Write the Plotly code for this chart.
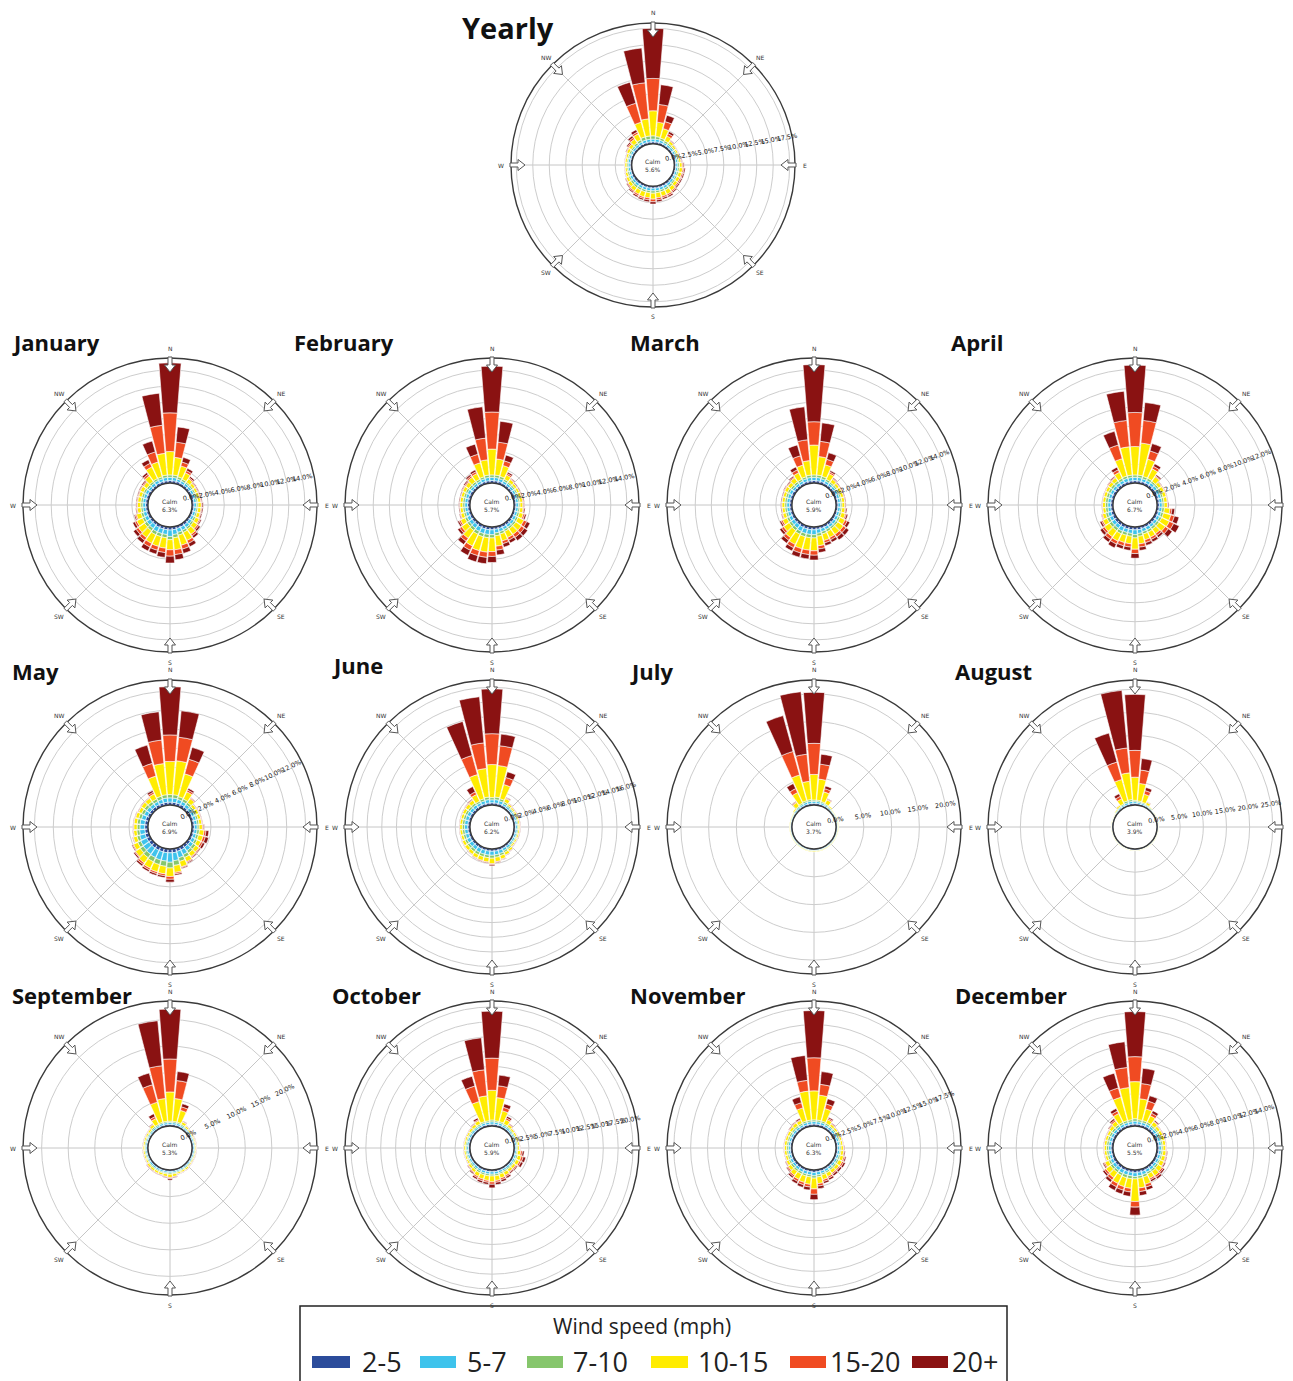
import math
import plotly.graph_objects as go

W, H = 1293, 1381

DIRECTIONS = list(range(0, 360, 10))
SPEED_BINS = ["2-5", "5-7", "7-10", "10-15", "15-20", "20+"]
COLORS = ["#2b4c9b", "#3ec3ec", "#86c66c", "#ffec00", "#f04b22", "#8a1212"]
COMPASS = ["N", "NE", "E", "SE", "S", "SW", "W", "NW"]
COMPASS_DEG = [0, 45, 90, 135, 180, 225, 270, 315]

# each entry: (2-5, 5-7, 7-10, 10-15, 15-20, 20+) in %, directions 0..350 step 10
YEARLY = [
    (0.3,0.4,0.5,3.8,4.9,7.6), (0.3,0.4,0.4,2.2,2.7,3.0), (0.3,0.35,0.35,1.5,1.1,1.0), (0.25,0.3,0.3,0.8,0.4,0.35), (0.25,0.3,0.25,0.4,0.1,0.1), (0.25,0.3,0.2,0.3,0.05,0.05),
    (0.25,0.3,0.2,0.25,0.05,0.05), (0.25,0.3,0.2,0.25,0.05,0.05), (0.25,0.3,0.2,0.3,0.1,0.1), (0.25,0.3,0.25,0.4,0.15,0.15), (0.25,0.3,0.25,0.5,0.2,0.2), (0.25,0.3,0.25,0.5,0.2,0.2),
    (0.25,0.3,0.25,0.5,0.2,0.2), (0.25,0.35,0.25,0.5,0.2,0.2), (0.3,0.35,0.3,0.6,0.2,0.2), (0.3,0.4,0.3,0.7,0.25,0.25), (0.3,0.4,0.3,0.7,0.25,0.25), (0.3,0.4,0.3,0.8,0.3,0.3),
    (0.3,0.4,0.35,0.9,0.4,0.35), (0.3,0.4,0.3,0.8,0.3,0.3), (0.3,0.4,0.3,0.8,0.25,0.25), (0.3,0.4,0.3,0.7,0.25,0.25), (0.3,0.4,0.3,0.6,0.2,0.2), (0.3,0.35,0.3,0.5,0.15,0.15),
    (0.3,0.35,0.25,0.4,0.1,0.1), (0.25,0.3,0.25,0.35,0.05,0.05), (0.25,0.3,0.2,0.3,0.05,0.05), (0.25,0.3,0.2,0.3,0.05,0.05), (0.25,0.3,0.2,0.3,0.05,0.05), (0.25,0.3,0.2,0.3,0.05,0.05),
    (0.25,0.3,0.25,0.4,0.1,0.1), (0.25,0.3,0.25,0.5,0.2,0.2), (0.25,0.35,0.3,0.7,0.3,0.3), (0.3,0.35,0.35,1.0,0.3,0.4), (0.3,0.4,0.5,2.3,3.0,3.3), (0.3,0.4,0.5,2.6,5.5,5.3),
]
JANUARY = [
    (0.3,0.4,0.3,2.9,4.8,6.2), (0.3,0.4,0.3,2.2,1.9,1.9), (0.3,0.3,0.3,1.4,0.5,0.6), (0.25,0.3,0.25,0.9,0.3,0.3), (0.25,0.3,0.2,0.5,0.15,0.2), (0.25,0.3,0.2,0.35,0.1,0.1),
    (0.25,0.3,0.2,0.3,0.1,0.1), (0.25,0.3,0.2,0.3,0.1,0.1), (0.25,0.3,0.2,0.35,0.1,0.1), (0.25,0.3,0.2,0.4,0.1,0.15), (0.25,0.3,0.2,0.4,0.1,0.15), (0.25,0.3,0.2,0.4,0.1,0.15),
    (0.25,0.3,0.25,0.5,0.15,0.15), (0.25,0.35,0.25,0.6,0.2,0.25), (0.3,0.4,0.25,0.8,0.25,0.3), (0.3,0.45,0.3,1.1,0.4,0.45), (0.3,0.5,0.35,1.3,0.5,0.55), (0.35,0.6,0.4,1.5,0.6,0.65),
    (0.37,0.8,0.4,1.25,0.8,0.85), (0.35,0.6,0.4,1.3,0.55,0.6), (0.35,0.6,0.4,1.25,0.5,0.5), (0.35,0.6,0.4,1.2,0.5,0.55), (0.3,0.55,0.35,1.05,0.4,0.45), (0.3,0.5,0.35,0.95,0.35,0.4),
    (0.3,0.45,0.3,0.8,0.25,0.3), (0.3,0.4,0.3,0.6,0.15,0.15), (0.3,0.35,0.25,0.45,0.1,0.1), (0.3,0.35,0.25,0.4,0.1,0.1), (0.3,0.35,0.25,0.4,0.1,0.1), (0.3,0.35,0.25,0.4,0.1,0.1),
    (0.3,0.35,0.25,0.45,0.1,0.1), (0.25,0.3,0.25,0.5,0.15,0.15), (0.25,0.35,0.25,0.85,0.25,0.25), (0.3,0.35,0.25,1.6,0.5,0.5), (0.3,0.35,0.25,1.9,1.3,1.4), (0.3,0.4,0.3,2.7,3.5,4.0),
]
FEBRUARY = [
    (0.3,0.4,0.3,3.2,4.6,5.7), (0.3,0.4,0.3,2.0,2.1,2.6), (0.3,0.35,0.3,1.4,0.6,0.75), (0.25,0.3,0.25,0.6,0.2,0.2), (0.25,0.3,0.2,0.4,0.1,0.1), (0.25,0.3,0.2,0.3,0.05,0.1),
    (0.25,0.3,0.2,0.3,0.05,0.1), (0.25,0.3,0.2,0.3,0.05,0.1), (0.25,0.3,0.2,0.35,0.1,0.1), (0.25,0.3,0.2,0.35,0.1,0.1), (0.25,0.3,0.2,0.4,0.1,0.15), (0.25,0.3,0.25,0.5,0.2,0.2),
    (0.25,0.35,0.25,0.8,0.4,0.45), (0.3,0.35,0.25,0.85,0.45,0.5), (0.3,0.35,0.25,0.85,0.45,0.5), (0.3,0.35,0.25,0.85,0.35,0.4), (0.3,0.4,0.3,0.9,0.35,0.45), (0.3,0.45,0.35,1.3,0.5,0.6),
    (0.35,0.6,0.4,1.7,0.6,0.75), (0.35,0.6,0.4,1.8,0.65,0.8), (0.35,0.6,0.4,1.8,0.65,0.8), (0.35,0.55,0.4,1.6,0.6,0.7), (0.3,0.5,0.35,1.2,0.45,0.5), (0.3,0.45,0.3,0.85,0.3,0.3),
    (0.3,0.4,0.3,0.6,0.2,0.2), (0.3,0.35,0.25,0.4,0.1,0.1), (0.3,0.35,0.25,0.35,0.05,0.1), (0.3,0.35,0.25,0.35,0.05,0.1), (0.3,0.35,0.25,0.35,0.05,0.1), (0.3,0.35,0.25,0.35,0.05,0.1),
    (0.3,0.35,0.25,0.4,0.1,0.1), (0.25,0.3,0.25,0.5,0.15,0.15), (0.25,0.3,0.25,0.7,0.2,0.2), (0.25,0.3,0.25,0.8,0.25,0.25), (0.3,0.35,0.25,1.8,1.1,1.3), (0.3,0.4,0.3,1.9,2.7,3.9),
]
MARCH = [
    (0.3,0.4,0.3,3.7,2.9,7.1), (0.3,0.4,0.3,2.3,1.9,2.3), (0.3,0.35,0.3,1.5,0.7,0.85), (0.25,0.3,0.25,0.8,0.2,0.2), (0.25,0.3,0.2,0.45,0.1,0.1), (0.25,0.3,0.2,0.35,0.05,0.1),
    (0.25,0.3,0.2,0.35,0.05,0.1), (0.25,0.3,0.2,0.35,0.05,0.1), (0.25,0.3,0.2,0.35,0.05,0.1), (0.25,0.3,0.2,0.35,0.05,0.1), (0.25,0.3,0.2,0.4,0.1,0.15), (0.25,0.3,0.25,0.5,0.15,0.2),
    (0.25,0.35,0.25,0.7,0.3,0.35), (0.3,0.35,0.25,0.85,0.4,0.45), (0.3,0.35,0.25,0.85,0.4,0.45), (0.3,0.35,0.3,0.8,0.3,0.35), (0.3,0.4,0.3,0.85,0.3,0.35), (0.3,0.5,0.35,1.2,0.4,0.45),
    (0.35,0.6,0.4,1.6,0.55,0.6), (0.35,0.6,0.4,1.55,0.55,0.55), (0.35,0.6,0.4,1.55,0.55,0.55), (0.35,0.55,0.4,1.4,0.45,0.45), (0.3,0.5,0.35,1.1,0.4,0.45), (0.3,0.45,0.3,0.85,0.3,0.3),
    (0.3,0.4,0.3,0.6,0.2,0.2), (0.3,0.35,0.25,0.4,0.1,0.1), (0.3,0.35,0.25,0.35,0.05,0.1), (0.3,0.35,0.25,0.35,0.05,0.1), (0.3,0.35,0.25,0.35,0.05,0.1), (0.3,0.35,0.25,0.35,0.05,0.1),
    (0.3,0.35,0.25,0.4,0.1,0.1), (0.25,0.3,0.25,0.45,0.1,0.1), (0.25,0.3,0.25,0.6,0.15,0.15), (0.25,0.3,0.25,0.9,0.4,0.4), (0.3,0.35,0.25,1.5,1.2,1.4), (0.3,0.4,0.3,1.8,2.6,4.1),
]
APRIL = [
    (0.25,0.35,0.25,3.0,3.6,5.0), (0.25,0.35,0.25,3.4,2.4,1.9), (0.25,0.3,0.25,1.9,0.9,0.8), (0.25,0.3,0.25,1.1,0.3,0.3), (0.25,0.3,0.2,0.6,0.1,0.15), (0.25,0.3,0.2,0.35,0.05,0.05),
    (0.25,0.3,0.2,0.35,0.05,0.05), (0.25,0.3,0.2,0.35,0.05,0.05), (0.25,0.3,0.2,0.35,0.05,0.05), (0.25,0.3,0.2,0.35,0.05,0.1), (0.25,0.3,0.25,0.6,0.2,0.3), (0.25,0.3,0.25,0.8,0.4,0.5),
    (0.25,0.3,0.25,0.9,0.5,0.65), (0.25,0.3,0.25,0.8,0.4,0.5), (0.25,0.3,0.25,0.6,0.25,0.25), (0.25,0.35,0.25,0.6,0.25,0.3), (0.25,0.35,0.25,0.65,0.3,0.3), (0.3,0.4,0.3,0.8,0.35,0.35),
    (0.3,0.5,0.35,1.2,0.45,0.5), (0.3,0.4,0.3,0.8,0.35,0.35), (0.3,0.4,0.3,0.8,0.35,0.35), (0.3,0.45,0.3,0.85,0.35,0.45), (0.3,0.4,0.3,0.8,0.35,0.35), (0.3,0.4,0.3,0.65,0.25,0.3),
    (0.3,0.35,0.3,0.5,0.15,0.2), (0.3,0.35,0.25,0.35,0.1,0.05), (0.25,0.3,0.25,0.3,0.05,0.05), (0.25,0.3,0.25,0.3,0.05,0.05), (0.25,0.3,0.25,0.3,0.05,0.05), (0.25,0.3,0.25,0.3,0.05,0.05),
    (0.25,0.3,0.25,0.3,0.05,0.05), (0.25,0.3,0.25,0.35,0.1,0.05), (0.25,0.3,0.25,0.4,0.1,0.1), (0.25,0.3,0.25,0.7,0.3,0.3), (0.25,0.35,0.25,1.9,1.5,1.5), (0.25,0.35,0.25,3.0,2.8,3.1),
]
MAY = [
    (0.3,0.45,0.35,3.5,2.8,5.1), (0.3,0.45,0.35,3.6,2.5,2.8), (0.3,0.4,0.3,2.5,1.6,1.3), (0.3,0.35,0.3,0.85,0.2,0.2), (0.25,0.35,0.25,0.5,0.1,0.05), (0.25,0.3,0.2,0.3,0.05,0.05),
    (0.25,0.3,0.2,0.3,0.05,0.05), (0.25,0.3,0.2,0.3,0.05,0.05), (0.25,0.3,0.2,0.3,0.05,0.05), (0.25,0.3,0.2,0.35,0.1,0.1), (0.25,0.3,0.25,0.5,0.2,0.3), (0.25,0.3,0.25,0.5,0.25,0.35),
    (0.25,0.35,0.25,0.45,0.2,0.25), (0.3,0.4,0.3,0.45,0.1,0.1), (0.3,0.45,0.3,0.45,0.1,0.1), (0.35,0.55,0.35,0.5,0.1,0.1), (0.35,0.7,0.4,0.6,0.1,0.1), (0.4,0.85,0.5,0.75,0.15,0.15),
    (0.4,1.0,0.6,0.9,0.3,0.3), (0.4,0.9,0.55,0.8,0.2,0.2), (0.4,0.9,0.5,0.8,0.2,0.2), (0.4,0.85,0.5,0.75,0.2,0.2), (0.4,0.8,0.45,0.7,0.2,0.2), (0.4,0.75,0.4,0.6,0.1,0.15),
    (0.4,0.7,0.35,0.5,0.1,0.1), (0.4,0.6,0.3,0.4,0.05,0.05), (0.35,0.55,0.3,0.35,0.05,0.05), (0.35,0.5,0.3,0.35,0.05,0.05), (0.35,0.5,0.3,0.35,0.05,0.05), (0.35,0.45,0.3,0.35,0.05,0.05),
    (0.3,0.4,0.3,0.35,0.05,0.05), (0.3,0.4,0.3,0.4,0.05,0.05), (0.3,0.35,0.3,0.45,0.05,0.05), (0.3,0.35,0.3,0.6,0.2,0.2), (0.3,0.4,0.35,2.2,1.4,2.0), (0.3,0.45,0.35,3.3,2.5,3.0),
]
JUNE = [
    (0.3,0.4,0.3,4.5,4.2,6.1), (0.3,0.45,0.35,4.3,2.7,1.6), (0.3,0.4,0.3,2.0,1.0,0.8), (0.25,0.3,0.25,0.5,0.1,0.1), (0.2,0.25,0.2,0.25,0.05,0.05), (0.2,0.25,0.15,0.2,0.05,0.05),
    (0.2,0.25,0.15,0.2,0.05,0.05), (0.2,0.25,0.15,0.2,0.05,0.05), (0.2,0.25,0.15,0.2,0.05,0.05), (0.2,0.25,0.15,0.2,0.05,0.05), (0.2,0.25,0.15,0.2,0.05,0.05), (0.2,0.25,0.15,0.2,0.05,0.05),
    (0.2,0.25,0.15,0.2,0.05,0.05), (0.2,0.25,0.15,0.2,0.05,0.05), (0.25,0.3,0.2,0.3,0.05,0.05), (0.25,0.35,0.25,0.4,0.05,0.05), (0.3,0.45,0.3,0.5,0.1,0.05), (0.3,0.5,0.35,0.6,0.1,0.1),
    (0.3,0.55,0.4,0.75,0.15,0.15), (0.3,0.55,0.35,0.6,0.1,0.1), (0.3,0.55,0.35,0.55,0.1,0.1), (0.3,0.55,0.35,0.5,0.1,0.05), (0.3,0.5,0.35,0.45,0.05,0.05), (0.3,0.5,0.3,0.45,0.05,0.05),
    (0.3,0.5,0.3,0.4,0.05,0.05), (0.3,0.45,0.3,0.35,0.05,0.05), (0.3,0.45,0.3,0.35,0.05,0.05), (0.3,0.45,0.3,0.35,0.05,0.05), (0.3,0.45,0.3,0.35,0.05,0.05), (0.3,0.45,0.3,0.35,0.05,0.05),
    (0.3,0.45,0.3,0.4,0.05,0.05), (0.3,0.4,0.3,0.45,0.1,0.05), (0.3,0.4,0.3,0.5,0.1,0.1), (0.3,0.35,0.25,1.0,0.4,0.8), (0.3,0.4,0.3,3.4,2.7,4.8), (0.3,0.45,0.35,3.9,3.5,6.3),
]
JULY = [
    (0.3,0.35,0.25,4.6,5.6,9.2), (0.3,0.35,0.25,3.8,2.7,1.8), (0.25,0.3,0.25,1.8,0.6,0.5), (0.2,0.25,0.2,0.8,0.15,0.1), (0.15,0.2,0.15,0.2,0.0,0.0), (0.12,0.15,0.1,0.08,0.0,0.0),
    (0.12,0.15,0.1,0.08,0.0,0.0), (0.12,0.15,0.1,0.08,0.0,0.0), (0.12,0.15,0.1,0.08,0.0,0.0), (0.12,0.15,0.1,0.08,0.0,0.0), (0.12,0.15,0.1,0.08,0.0,0.0), (0.12,0.15,0.1,0.08,0.0,0.0),
    (0.12,0.15,0.1,0.08,0.0,0.0), (0.12,0.15,0.1,0.08,0.0,0.0), (0.12,0.15,0.1,0.08,0.0,0.0), (0.12,0.15,0.1,0.08,0.0,0.0), (0.12,0.15,0.1,0.1,0.0,0.0), (0.12,0.15,0.12,0.12,0.0,0.0),
    (0.12,0.15,0.12,0.15,0.0,0.0), (0.12,0.15,0.12,0.12,0.0,0.0), (0.12,0.15,0.1,0.1,0.0,0.0), (0.12,0.15,0.1,0.08,0.0,0.0), (0.12,0.15,0.1,0.08,0.0,0.0), (0.12,0.15,0.1,0.08,0.0,0.0),
    (0.12,0.15,0.1,0.08,0.0,0.0), (0.12,0.15,0.1,0.08,0.0,0.0), (0.12,0.15,0.1,0.08,0.0,0.0), (0.12,0.15,0.1,0.08,0.0,0.0), (0.12,0.15,0.1,0.08,0.0,0.0), (0.12,0.15,0.1,0.08,0.0,0.0),
    (0.12,0.15,0.1,0.1,0.0,0.0), (0.15,0.2,0.15,0.2,0.0,0.0), (0.2,0.25,0.2,0.8,0.15,0.1), (0.25,0.3,0.25,2.1,0.8,1.0), (0.3,0.35,0.3,4.8,4.4,6.7), (0.3,0.4,0.3,3.3,4.9,11.3),
]
AUGUST = [
    (0.3,0.4,0.3,5.0,5.8,12.1), (0.25,0.35,0.3,3.8,2.9,2.5), (0.25,0.3,0.25,1.8,0.8,0.7), (0.2,0.25,0.2,0.5,0.1,0.05), (0.15,0.2,0.15,0.1,0.0,0.0), (0.1,0.12,0.08,0.05,0.0,0.0),
    (0.1,0.12,0.08,0.05,0.0,0.0), (0.1,0.12,0.08,0.05,0.0,0.0), (0.1,0.12,0.08,0.05,0.0,0.0), (0.1,0.12,0.08,0.05,0.0,0.0), (0.1,0.12,0.08,0.05,0.0,0.0), (0.1,0.12,0.08,0.05,0.0,0.0),
    (0.1,0.12,0.08,0.05,0.0,0.0), (0.1,0.12,0.08,0.05,0.0,0.0), (0.1,0.12,0.08,0.05,0.0,0.0), (0.1,0.12,0.08,0.05,0.0,0.0), (0.1,0.12,0.08,0.05,0.0,0.0), (0.1,0.12,0.08,0.05,0.0,0.0),
    (0.1,0.12,0.08,0.05,0.0,0.0), (0.1,0.12,0.08,0.05,0.0,0.0), (0.1,0.12,0.08,0.05,0.0,0.0), (0.1,0.12,0.08,0.05,0.0,0.0), (0.1,0.12,0.08,0.05,0.0,0.0), (0.1,0.12,0.08,0.05,0.0,0.0),
    (0.1,0.12,0.08,0.05,0.0,0.0), (0.1,0.12,0.08,0.05,0.0,0.0), (0.1,0.12,0.08,0.05,0.0,0.0), (0.1,0.12,0.08,0.05,0.0,0.0), (0.1,0.12,0.08,0.05,0.0,0.0), (0.1,0.12,0.08,0.05,0.0,0.0),
    (0.1,0.12,0.08,0.05,0.0,0.0), (0.15,0.2,0.15,0.15,0.0,0.0), (0.2,0.25,0.2,0.35,0.05,0.05), (0.25,0.3,0.25,1.2,0.6,0.6), (0.3,0.4,0.4,4.8,3.9,6.5), (0.35,0.45,0.4,5.8,5.4,12.5),
]
SEPTEMBER = [
    (0.3,0.35,0.25,5.5,6.2,9.4), (0.3,0.35,0.25,4.3,3.4,1.7), (0.3,0.35,0.25,2.3,0.7,0.6), (0.25,0.3,0.25,0.5,0.1,0.1), (0.2,0.25,0.2,0.3,0.05,0.05), (0.2,0.25,0.15,0.2,0.05,0.05),
    (0.2,0.25,0.15,0.2,0.05,0.05), (0.2,0.25,0.15,0.2,0.05,0.05), (0.2,0.25,0.15,0.2,0.05,0.05), (0.2,0.25,0.15,0.2,0.05,0.05), (0.2,0.25,0.15,0.2,0.05,0.05), (0.2,0.25,0.15,0.2,0.05,0.05),
    (0.2,0.25,0.15,0.2,0.05,0.05), (0.2,0.25,0.15,0.2,0.05,0.05), (0.2,0.25,0.2,0.3,0.05,0.05), (0.2,0.25,0.2,0.3,0.05,0.05), (0.2,0.25,0.2,0.3,0.05,0.05), (0.25,0.3,0.2,0.5,0.1,0.15),
    (0.25,0.3,0.25,0.6,0.2,0.3), (0.25,0.3,0.2,0.5,0.1,0.15), (0.25,0.3,0.2,0.4,0.1,0.1), (0.25,0.3,0.2,0.4,0.1,0.1), (0.25,0.3,0.2,0.4,0.1,0.1), (0.25,0.3,0.2,0.4,0.1,0.1),
    (0.2,0.25,0.2,0.3,0.05,0.05), (0.2,0.25,0.2,0.3,0.05,0.05), (0.2,0.25,0.2,0.3,0.05,0.05), (0.2,0.25,0.2,0.3,0.05,0.05), (0.2,0.25,0.2,0.3,0.05,0.05), (0.2,0.25,0.2,0.3,0.05,0.05),
    (0.2,0.25,0.2,0.3,0.05,0.05), (0.2,0.25,0.2,0.35,0.05,0.05), (0.25,0.3,0.25,0.5,0.1,0.1), (0.25,0.3,0.25,1.2,0.4,0.6), (0.3,0.35,0.25,3.9,3.4,2.3), (0.3,0.35,0.25,4.3,6.2,8.5),
]
OCTOBER = [
    (0.3,0.4,0.3,5.0,5.4,7.9), (0.3,0.35,0.25,3.9,2.0,1.8), (0.3,0.35,0.25,1.9,0.6,0.6), (0.25,0.3,0.25,0.8,0.3,0.3), (0.25,0.3,0.2,0.4,0.1,0.1), (0.2,0.25,0.2,0.3,0.05,0.05),
    (0.2,0.25,0.2,0.3,0.05,0.05), (0.2,0.25,0.2,0.3,0.05,0.05), (0.2,0.25,0.2,0.3,0.05,0.05), (0.2,0.25,0.2,0.3,0.05,0.05), (0.2,0.25,0.2,0.5,0.3,0.3), (0.25,0.3,0.25,0.6,0.35,0.45),
    (0.25,0.3,0.25,0.6,0.3,0.4), (0.25,0.3,0.2,0.45,0.2,0.2), (0.25,0.3,0.2,0.45,0.15,0.2), (0.25,0.3,0.25,0.6,0.25,0.3), (0.25,0.35,0.25,0.7,0.3,0.35), (0.3,0.4,0.3,0.8,0.3,0.4),
    (0.3,0.4,0.3,1.0,0.4,0.6), (0.3,0.4,0.3,0.8,0.3,0.35), (0.3,0.4,0.3,0.75,0.3,0.35), (0.3,0.35,0.3,0.65,0.25,0.3), (0.25,0.35,0.25,0.5,0.15,0.2), (0.25,0.3,0.25,0.4,0.1,0.1),
    (0.25,0.3,0.2,0.3,0.05,0.05), (0.25,0.3,0.2,0.3,0.05,0.05), (0.25,0.3,0.2,0.3,0.05,0.05), (0.25,0.3,0.2,0.3,0.05,0.05), (0.25,0.3,0.2,0.3,0.05,0.05), (0.25,0.3,0.2,0.3,0.05,0.05),
    (0.25,0.3,0.2,0.3,0.05,0.05), (0.25,0.3,0.2,0.35,0.05,0.05), (0.25,0.3,0.2,0.45,0.1,0.1), (0.25,0.3,0.25,0.6,0.2,0.3), (0.3,0.35,0.25,3.5,2.7,1.7), (0.3,0.35,0.25,4.2,4.4,5.4),
]
NOVEMBER = [
    (0.3,0.35,0.25,4.3,4.9,7.0), (0.3,0.35,0.25,3.7,1.6,1.9), (0.3,0.35,0.25,1.9,0.7,0.8), (0.25,0.3,0.25,0.6,0.2,0.2), (0.25,0.3,0.2,0.35,0.1,0.1), (0.25,0.3,0.2,0.3,0.05,0.05),
    (0.25,0.3,0.2,0.3,0.05,0.05), (0.25,0.3,0.2,0.3,0.05,0.05), (0.25,0.3,0.2,0.3,0.05,0.05), (0.25,0.3,0.2,0.35,0.1,0.1), (0.25,0.3,0.2,0.4,0.1,0.15), (0.25,0.3,0.25,0.5,0.2,0.2),
    (0.25,0.3,0.25,0.55,0.25,0.3), (0.25,0.3,0.25,0.5,0.2,0.3), (0.25,0.3,0.25,0.5,0.2,0.3), (0.25,0.35,0.25,0.6,0.25,0.3), (0.3,0.35,0.25,0.7,0.3,0.3), (0.3,0.45,0.3,1.0,0.35,0.4),
    (0.35,0.5,0.35,1.6,0.8,0.8), (0.3,0.45,0.3,1.1,0.4,0.45), (0.3,0.45,0.3,1.0,0.35,0.4), (0.3,0.4,0.3,0.9,0.35,0.35), (0.3,0.4,0.3,0.7,0.25,0.25), (0.3,0.35,0.3,0.5,0.2,0.15),
    (0.3,0.35,0.25,0.4,0.1,0.1), (0.25,0.3,0.25,0.35,0.05,0.05), (0.25,0.3,0.25,0.35,0.05,0.05), (0.25,0.3,0.25,0.35,0.05,0.05), (0.25,0.3,0.25,0.35,0.05,0.05), (0.25,0.3,0.25,0.35,0.05,0.05),
    (0.25,0.3,0.25,0.35,0.05,0.05), (0.25,0.3,0.25,0.4,0.1,0.1), (0.25,0.3,0.25,0.5,0.1,0.1), (0.25,0.3,0.25,0.5,0.1,0.2), (0.3,0.35,0.25,2.0,0.8,0.9), (0.3,0.35,0.25,4.3,1.6,3.7),
]
DECEMBER = [
    (0.25,0.35,0.3,4.6,3.1,5.6), (0.25,0.3,0.25,2.6,1.9,1.9), (0.25,0.3,0.25,1.5,1.0,0.7), (0.25,0.3,0.25,0.9,0.35,0.35), (0.25,0.3,0.2,0.5,0.1,0.15), (0.25,0.3,0.2,0.35,0.05,0.05),
    (0.25,0.3,0.2,0.35,0.05,0.05), (0.25,0.3,0.2,0.35,0.05,0.05), (0.25,0.3,0.2,0.35,0.05,0.05), (0.25,0.3,0.2,0.35,0.05,0.05), (0.25,0.3,0.2,0.4,0.1,0.1), (0.25,0.3,0.2,0.45,0.1,0.1),
    (0.25,0.3,0.2,0.5,0.1,0.15), (0.25,0.3,0.25,0.6,0.2,0.2), (0.25,0.35,0.25,0.65,0.25,0.25), (0.25,0.35,0.25,0.6,0.2,0.25), (0.3,0.4,0.3,0.95,0.35,0.4), (0.3,0.45,0.3,1.2,0.45,0.5),
    (0.35,0.45,0.3,2.8,0.7,1.0), (0.3,0.45,0.35,1.2,0.45,0.55), (0.3,0.45,0.35,1.15,0.45,0.5), (0.3,0.45,0.3,1.1,0.45,0.5), (0.3,0.4,0.3,0.8,0.35,0.35), (0.3,0.4,0.3,0.7,0.25,0.25),
    (0.3,0.35,0.25,0.5,0.15,0.15), (0.25,0.3,0.25,0.3,0.05,0.05), (0.25,0.3,0.25,0.3,0.05,0.05), (0.25,0.3,0.25,0.3,0.05,0.05), (0.25,0.3,0.25,0.3,0.05,0.05), (0.25,0.3,0.25,0.3,0.05,0.05),
    (0.25,0.3,0.25,0.3,0.05,0.05), (0.25,0.3,0.25,0.4,0.1,0.1), (0.25,0.3,0.25,0.55,0.2,0.2), (0.25,0.3,0.25,1.2,0.35,0.35), (0.25,0.3,0.25,3.0,1.2,1.9), (0.25,0.3,0.25,4.0,2.5,3.2),
]

PANEL_NAMES = ["Yearly", "January", "February", "March", "April", "May", "June",
               "July", "August", "September", "October", "November", "December"]
PANEL_DATA = [YEARLY, JANUARY, FEBRUARY, MARCH, APRIL, MAY, JUNE,
              JULY, AUGUST, SEPTEMBER, OCTOBER, NOVEMBER, DECEMBER]
CALM = [5.6, 6.3, 5.7, 5.9, 6.7, 6.9, 6.2, 3.7, 3.9, 5.3, 5.9, 6.3, 5.5]
TICK_STEP = [2.5, 2, 2, 2, 2, 2, 2, 5, 5, 5, 2.5, 2.5, 2]
TICK_MAX = [17.5, 14, 14, 14, 12, 12, 16, 20, 25, 20, 20, 17.5, 14]
R_MAX = [18.3, 15.5, 15.5, 15.5, 13.2, 13.2, 17.0, 22.5, 27.0, 23.5, 21.0, 18.5, 15.5]

# ---- layout (pixel positions in the page) ----
PAGE_OFF = 8  # default body margin of the html page
CENTERS = [(653, 165, 142),
           (170, 505, 147), (492, 505, 147), (814, 505, 147), (1135, 505, 147),
           (170, 827, 147), (492, 827, 147), (814, 827, 147), (1135, 827, 147),
           (170, 1148, 147), (492, 1148, 147), (814, 1148, 147), (1135, 1148, 147)]
TITLE_POS = [(460, 27, 29),
             (10, 342, 22), (292, 342, 22), (628, 342, 22), (949, 342, 22),
             (10, 671, 22), (330, 665, 22), (628, 671, 22), (953, 671, 22),
             (10, 995, 22), (330, 995, 22), (628, 995, 22), (953, 995, 22)]
LABEL_ANGLE = [10, 10, 10, 20, 20, 25, 15, 8, 8, 25, 10, 20, 15]

for d in PANEL_DATA:
    assert len(d) == 36


def px_x(x):
    return (x - PAGE_OFF) / W


def px_y(y):
    return 1 - (y - PAGE_OFF) / H


def arrow_path(cx, cy, R, deg):
    t = math.radians(deg)
    dx, dy = math.sin(t), -math.cos(t)       # outward direction (screen)
    ux, uy = -dx, -dy                        # inward
    vx, vy = math.cos(t), math.sin(t)        # perpendicular
    bx, by = cx + (R + 1) * dx, cy + (R + 1) * dy
    pts = [(0, -2), (8, -2), (8, -5.5), (15, 0), (8, 5.5), (8, 2), (0, 2)]
    coords = []
    for s, v in pts:
        x = bx + s * ux + v * vx
        y = by + s * uy + v * vy
        coords.append(f"{px_x(x):.5f},{px_y(y):.5f}")
    return "M" + " L".join(coords) + " Z"


fig = go.Figure()
annotations = []
shapes = []
layout_polars = {}

for i, (name, data) in enumerate(zip(PANEL_NAMES, PANEL_DATA)):
    sub = "polar" if i == 0 else f"polar{i+1}"
    cx, cy, R = CENTERS[i]
    for b, (bin_name, color) in enumerate(zip(SPEED_BINS, COLORS)):
        fig.add_trace(go.Barpolar(
            r=[row[b] for row in data], theta=DIRECTIONS, width=[9] * len(DIRECTIONS),
            marker=dict(color=color, line=dict(color="white", width=0.6)),
            name=bin_name, showlegend=False, subplot=sub, hoverinfo="skip"))
    # calm circle outline
    fig.add_trace(go.Scatterpolar(
        r=[0] * 73, theta=list(range(0, 365, 5)), mode="lines",
        line=dict(color="#26346e", width=1.0), showlegend=False, subplot=sub,
        hoverinfo="skip", cliponaxis=False))

    n = int(round(TICK_MAX[i] / TICK_STEP[i]))
    ticks = [round(k * TICK_STEP[i], 2) for k in range(n + 1)]
    layout_polars[sub] = dict(
        domain=dict(x=[px_x(cx - R), px_x(cx + R)], y=[px_y(cy + R), px_y(cy - R)]),
        hole=0.15, bgcolor="white", barmode="stack",
        angularaxis=dict(rotation=90, direction="clockwise", tickmode="array",
                         tickvals=COMPASS_DEG, ticktext=COMPASS, showticklabels=False,
                         ticks="", showline=True, linecolor="#3a3a3a", linewidth=1.4,
                         showgrid=True, gridcolor="#c6c6c6", gridwidth=0.8),
        radialaxis=dict(range=[0, R_MAX[i]], tickmode="array", tickvals=ticks,
                        ticktext=[f"{t:.1f}%" for t in ticks], angle=LABEL_ANGLE[i], tickangle=0,
                        side="counterclockwise", layer="above traces",
                        tickfont=dict(size=6.5, color="#111111", family="DejaVu Sans"),
                        showline=False, ticks="", showgrid=True,
                        gridcolor="#cdcdcd", gridwidth=0.8),
    )
    # compass arrows and labels
    for lab, deg in zip(COMPASS, COMPASS_DEG):
        shapes.append(dict(type="path", xref="paper", yref="paper", path=arrow_path(cx, cy, R, deg),
                           line=dict(color="#555555", width=1), fillcolor="white", layer="above"))
        t = math.radians(deg)
        lx, ly = cx + (R + 10) * math.sin(t), cy - (R + 10) * math.cos(t)
        annotations.append(dict(x=px_x(lx), y=px_y(ly), xref="paper", yref="paper", showarrow=False,
                                text=lab, font=dict(size=6, color="#333333", family="DejaVu Sans"),
                                xanchor="center", yanchor="middle"))
    annotations.append(dict(
        x=px_x(cx), y=px_y(cy), xref="paper", yref="paper", showarrow=False,
        text=f"Calm<br>{CALM[i]:.1f}%", font=dict(size=6, color="#333333", family="DejaVu Sans"),
        xanchor="center", yanchor="middle"))
    tx, ty, ts = TITLE_POS[i]
    annotations.append(dict(
        x=px_x(tx), y=px_y(ty), xref="paper", yref="paper", showarrow=False,
        text=f"<b>{name}</b>", font=dict(size=ts, color="#111111", family="Open Sans"),
        xanchor="left", yanchor="middle"))

# ---- custom legend ----
LEG_BOX = (300, 1306, 1007, 1395)
LEG_RECT_X = [(312, 350), (420, 456), (527, 563), (651, 688), (790, 826), (912, 948)]
LEG_TEXT_X = [360, 465, 571, 696, 828, 950]
shapes.append(dict(type="rect", xref="paper", yref="paper",
                   x0=px_x(LEG_BOX[0]), x1=px_x(LEG_BOX[2]), y0=px_y(LEG_BOX[3]), y1=px_y(LEG_BOX[1]),
                   line=dict(color="#222222", width=1.5), fillcolor="rgba(0,0,0,0)"))
annotations.append(dict(x=px_x(642), y=px_y(1326), xref="paper", yref="paper", showarrow=False,
                        text="Wind speed (mph)", font=dict(size=21, color="#222222", family="Open Sans"),
                        xanchor="center", yanchor="middle"))
for (x0, x1), tx, lab, col in zip(LEG_RECT_X, LEG_TEXT_X, SPEED_BINS, COLORS):
    shapes.append(dict(type="rect", xref="paper", yref="paper",
                       x0=px_x(x0), x1=px_x(x1), y0=px_y(1368), y1=px_y(1356),
                       line=dict(width=0), fillcolor=col))
    annotations.append(dict(x=px_x(tx), y=px_y(1361), xref="paper", yref="paper", showarrow=False,
                            text=lab, font=dict(size=27, color="#222222", family="Open Sans"),
                            xanchor="left", yanchor="middle"))

fig.update_layout(width=W, height=H, margin=dict(l=0, r=0, t=0, b=0),
                  paper_bgcolor="white", plot_bgcolor="white", showlegend=False,
                  annotations=annotations, shapes=shapes, **layout_polars)

fig.write_html("out.html")
